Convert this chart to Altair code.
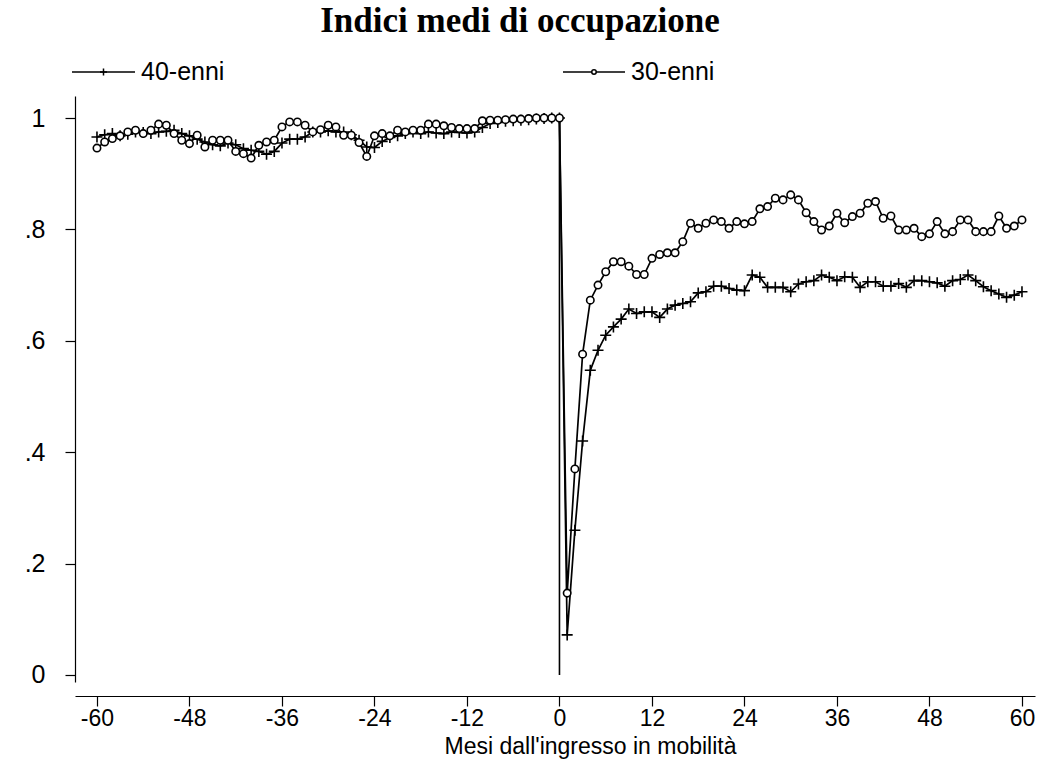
import altair as alt
import pandas as pd

# ---- data ----
months = list(range(-60, 61))
series = ["40-enni", "30-enni"]

v40 = [
    .966, .970, .972, .968, .971, .975, .974, .972, .975, .976,
    .978, .972, .968, .962, .957, .952, .950, .955, .952, .945,
    .942, .940, .935, .940, .955, .962, .962, .966, .975, .975,
    .977, .975, .975, .970, .960, .948, .947, .958, .965, .968,
    .972, .975, .972, .975, .973, .972, .975, .974, .973, .975,
    .983, .990, .992, .994, .995, .996, .997, .998, .999, 1.0,
    1.0,
    .072, .26, .42, .547, .583, .610, .625, .639, .657, .649,
    .652, .652, .642, .657, .664, .667, .670, .686, .688, .698,
    .698, .694, .691, .690, .718, .714, .696, .696, .696, .688,
    .702, .706, .708, .718, .714, .708, .715, .714, .696, .706,
    .706, .698, .698, .703, .696, .708, .708, .706, .704, .698,
    .708, .710, .718, .708, .697, .690, .684, .678, .682, .688,
]

v30 = [
    .946, .957, .963, .968, .975, .978, .972, .978, .989, .987,
    .972, .960, .954, .969, .948, .960, .960, .960, .940, .936,
    .928, .951, .957, .960, .984, .993, .993, .987, .975, .979,
    .987, .984, .969, .969, .956, .931, .968, .972, .968, .978,
    .975, .978, .978, .989, .989, .986, .983, .981, .981, .981,
    .995, .996, .996, .997, .998, .998, .999, 1.0, 1.0, 1.0,
    1.0,
    .147, .37, .576, .673, .700, .724, .742, .742, .734, .719,
    .719, .748, .755, .758, .758, .778, .811, .802, .811, .817,
    .814, .802, .814, .810, .814, .837, .841, .856, .853, .862,
    .853, .830, .814, .799, .806, .829, .812, .823, .829, .847,
    .850, .820, .824, .799, .799, .802, .787, .792, .814, .792,
    .796, .817, .817, .796, .796, .796, .824, .802, .806, .817,
]

x_ticks = list(range(-60, 61, 12))
y_ticks = [0, 0.2, 0.4, 0.6, 0.8, 1.0]

df = pd.DataFrame({
    "mese": months * 2,
    "valore": v40 + v30,
    "gruppo": [series[0]] * len(months) + [series[1]] * len(months),
})
zero_df = pd.DataFrame({"mese": [0], "lo": [0.0], "hi": [1.0]})

FONT = "Liberation Sans"
FS = 23

xs = alt.Scale(domain=[-62.85, 61.69], nice=False, zero=False)
ys = alt.Scale(domain=[-0.01257, 1.0395], nice=False, zero=False)

x_axis = alt.Axis(
    values=x_ticks, grid=False, offset=14, tickSize=10, tickColor="black",
    domainColor="black", domainWidth=1.2, tickWidth=1.2,
    labelFont=FONT, labelFontSize=FS, labelColor="black", labelPadding=1,
    labelExpr="datum.value < 0 ? '-' + abs(datum.value) : '' + datum.value",
    labelFlush=False, title="Mesi dall'ingresso in mobilità", titleFont=FONT,
    titleFontSize=FS, titleFontWeight="normal", titleColor="black",
    titleX=515, titleY=39, titleAlign="center", titleBaseline="top",
)
y_axis = alt.Axis(
    values=y_ticks, grid=False, tickSize=10, tickColor="black",
    domainColor="black", domainWidth=1.2, tickWidth=1.2,
    labelFont=FONT, labelFontSize=25, labelColor="black", labelPadding=20,
    labelExpr="datum.value == 0 ? '0' : datum.value == 1 ? '1' : '.' + format(datum.value * 10, 'd')",
    title=None,
)

X = alt.X("mese:Q", scale=xs, axis=x_axis)
Y = alt.Y("valore:Q", scale=ys, axis=y_axis)

base = alt.Chart(df)

zero_rule = alt.Chart(zero_df).mark_rule(color="black", strokeWidth=1.6).encode(
    x=alt.X("mese:Q", scale=xs), y=alt.Y("lo:Q", scale=ys), y2="hi:Q"
)

lines = base.mark_line(color="black", strokeWidth=1.7).encode(
    x=X, y=Y, detail="gruppo:N"
)

PLUS = "M-1,0H1M0,-1V1"

pts40 = base.transform_filter(alt.datum.gruppo == series[0]).mark_point(
    shape=PLUS, size=121, filled=False, stroke="black", strokeWidth=1.6, opacity=1
).encode(x=X, y=Y)

pts30 = base.transform_filter(alt.datum.gruppo == series[1]).mark_point(
    shape="circle", size=55, filled=True, fill="white", stroke="black",
    strokeWidth=1.6, opacity=1
).encode(x=X, y=Y)

# ---- hand-made legend above the plot ----
one = pd.DataFrame({"k": [0]})
LY = -24
leg = []
for name, x0, x1, shape, size in [
    (series[0], -3, 60, PLUS, 49),
    (series[1], 488, 550, "circle", 20),
]:
    leg.append(alt.Chart(one).mark_rule(color="black", strokeWidth=1.6).encode(
        x=alt.value(x0), x2=alt.value(x1), y=alt.value(LY)))
    if shape == "circle":
        leg.append(alt.Chart(one).mark_point(
            shape="circle", size=size, filled=True, fill="white", stroke="black",
            strokeWidth=1.5, opacity=1).encode(x=alt.value((x0 + x1) / 2), y=alt.value(LY)))
    else:
        leg.append(alt.Chart(one).mark_point(
            shape=shape, size=size, filled=False, stroke="black",
            strokeWidth=1.5, opacity=1).encode(x=alt.value((x0 + x1) / 2), y=alt.value(LY)))
    leg.append(alt.Chart(one).mark_text(
        align="left", baseline="middle", font=FONT, fontSize=25, color="black").encode(
        x=alt.value(x1 + 6), y=alt.value(LY), text=alt.value(name)))

chart = alt.layer(zero_rule, lines, pts40, pts30, *leg).properties(
    width=960, height=586,
    title=alt.TitleParams(
        "Indici medi di occupazione", font="Liberation Serif", fontSize=35,
        fontWeight="bold", anchor="middle", dx=-35, offset=21, color="black",
    ),
    autosize=alt.AutoSizeParams(type="none"),
    padding={"left": 75, "top": 96, "right": 4, "bottom": 82},
    background="white",
).configure_view(stroke=None)

chart.save("out.html", embed_options={"renderer": "svg", "actions": False})
